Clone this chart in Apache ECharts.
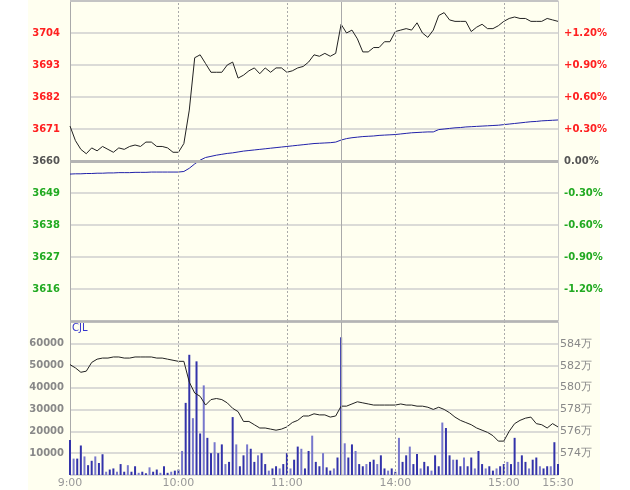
<!DOCTYPE html>
<html>
<head>
<meta charset="utf-8">
<script src="https://cdn.jsdelivr.net/npm/echarts@6/dist/echarts.min.js"></script>
<style>
  html, body { margin: 0; padding: 0; background: #fff; }
  #chart { width: 630px; height: 490px; }
</style>
</head>
<body>
<div id="chart"></div>
<script>
// 昨收 / 基准价
const basePrice = 3660;
// 3 分钟一个点，0..270 分钟（9:00-11:30, 13:30-15:30）
const priceStep = 3;
const priceList = [
  3672, 3667, 3664, 3662.5, 3664.5, 3663.5, 3665, 3664, 3663, 3664.5,
  3664, 3665, 3665.5, 3665, 3666.5, 3666.5, 3665, 3665, 3664.5, 3663,
  3663, 3666, 3677.5, 3695.5, 3696.5, 3693.5, 3690.5, 3690.5, 3690.5, 3693,
  3694, 3688.5, 3689.5, 3691, 3692, 3690, 3692, 3690.5, 3692, 3692,
  3690.5, 3691, 3692, 3692.5, 3694, 3696.5, 3696, 3697, 3696, 3697,
  3707, 3704, 3705, 3702, 3697.5, 3697.5, 3699, 3699, 3701, 3701,
  3704.5, 3705, 3705.5, 3705, 3707.5, 3704, 3702.5, 3705, 3710, 3711,
  3708.5, 3708, 3708, 3708, 3704.5, 3706, 3707, 3705.5, 3705.5, 3706.5,
  3708, 3709, 3709.5, 3709, 3709, 3708, 3708, 3708, 3709, 3708.5, 3708
];
const avgList = [
  3655.5, 3655.6, 3655.6, 3655.7, 3655.7, 3655.8, 3655.8, 3655.9, 3655.9, 3656.0,
  3656.0, 3656.0, 3656.1, 3656.1, 3656.1, 3656.2, 3656.2, 3656.2, 3656.2, 3656.2,
  3656.2, 3656.4, 3657.5, 3659.0, 3660.3, 3661.2, 3661.6, 3662.0, 3662.3, 3662.6,
  3662.8, 3663.1, 3663.4, 3663.6, 3663.8, 3664.0, 3664.2, 3664.4, 3664.6, 3664.8,
  3665.0, 3665.2, 3665.4, 3665.6, 3665.8, 3666.0, 3666.1, 3666.2, 3666.3, 3666.5,
  3667.2, 3667.7, 3668.0, 3668.2, 3668.4, 3668.5, 3668.6, 3668.8, 3668.9, 3669.0,
  3669.1, 3669.3, 3669.5, 3669.7, 3669.8, 3669.9, 3670.0, 3670.0, 3670.8, 3671.0,
  3671.2, 3671.4, 3671.5, 3671.7, 3671.8, 3671.9, 3672.0, 3672.1, 3672.2, 3672.3,
  3672.5, 3672.7, 3672.9, 3673.1, 3673.3, 3673.5, 3673.6, 3673.8, 3673.9, 3674.0, 3674.1
];
// 持仓量（万）
const cjlList = [
  582.1, 581.8, 581.4, 581.5, 582.3, 582.6, 582.7, 582.7, 582.8, 582.8,
  582.7, 582.7, 582.8, 582.8, 582.8, 582.8, 582.7, 582.7, 582.6, 582.5,
  582.4, 582.4, 580.5, 579.5, 579.2, 578.4, 578.9, 579.0, 578.9, 578.6,
  578.1, 577.8, 576.9, 576.9, 576.6, 576.3, 576.3, 576.2, 576.1, 576.2,
  576.4, 576.8, 577.0, 577.4, 577.4, 577.6, 577.5, 577.5, 577.3, 577.4,
  578.3, 578.3, 578.5, 578.7, 578.6, 578.5, 578.4, 578.4, 578.4, 578.4,
  578.4, 578.5, 578.4, 578.4, 578.3, 578.3, 578.2, 578.0, 578.2, 578.0,
  577.7, 577.3, 577.0, 576.8, 576.6, 576.3, 576.1, 575.9, 575.6, 575.1,
  575.1, 576.0, 576.7, 577.0, 577.2, 577.3, 576.7, 576.6, 576.3, 576.7, 576.4
];
// 成交量，2 分钟一根
const volStep = 2;
const volList = [
  16000, 7500, 7500, 13500, 8500, 4500, 6500, 8500, 5500, 9500,
  1500, 2500, 3000, 1500, 5000, 1500, 4500, 1500, 4000, 1000,
  1500, 800, 3500, 1500, 2500, 1000, 4000, 1000, 1500, 2000,
  2500, 11000, 33000, 55000, 26000, 52000, 19000, 41000, 17000, 10000,
  15000, 10000, 14000, 5000, 6000, 26500, 14000, 4000, 9000, 14000,
  12000, 6000, 9000, 10000, 5000, 2000, 3000, 4000, 3000, 5000,
  10000, 3000, 7000, 13000, 12000, 3000, 11000, 18000, 6000, 4000,
  10000, 3500, 2000, 3000, 8000, 63000, 14500, 8000, 14000, 11000,
  5000, 4000, 5000, 6000, 7000, 5000, 9000, 3000, 2000, 3000,
  1500, 17000, 6000, 9000, 13000, 5000, 9600, 3000, 6000, 4000,
  2000, 9000, 4000, 24000, 21500, 9000, 7000, 7000, 4000, 8000,
  4000, 8000, 3000, 11000, 5000, 3000, 4000, 2000, 3000, 4000,
  5000, 6000, 5000, 17000, 6000, 9000, 6000, 3000, 7000, 8000,
  4000, 3000, 4000, 4000, 15000, 5000
];
const timeLabels = { 0: '9:00', 60: '10:00', 120: '11:00', 180: '14:00', 240: '15:00', 270: '15:30' };

const chart = echarts.init(document.getElementById('chart'));
const L = 70, R = 72;
const font = 'DejaVu Sans';
const gridLine = { show: true, lineStyle: { color: '#cfcfcf', width: 1.5 } };
const rich = {
  up: { color: '#ff2020', fontFamily: font, fontSize: 10, fontWeight: 'bold' },
  dn: { color: '#22aa22', fontFamily: font, fontSize: 10, fontWeight: 'bold' },
  eq: { color: '#555555', fontFamily: font, fontSize: 10, fontWeight: 'bold' }
};
const tag = (d) => (d > 0 ? 'up' : d < 0 ? 'dn' : 'eq');

const vLines = () => ({
  silent: true,
  symbol: 'none',
  label: { show: false },
  data: [60, 120, 180, 240].map(x => ({ xAxis: x, lineStyle: { color: '#aaa', type: [2, 2], width: 1 } }))
    .concat([{ xAxis: 150, lineStyle: { color: '#aaa', type: 'solid', width: 1 } }])
});

const options = {
  animation: false,
  graphic: [
    { type: 'rect', z: -10, shape: { x: 28, y: 0, width: 572, height: 490 }, style: { fill: '#fffff0' } },
    { type: 'text', left: 72, top: 323, style: { text: 'CJL', fill: '#3333cc', font: '10px ' + font } }
  ],
  grid: [
    { left: L, right: R, top: 1, height: 320, show: false },
    { left: L, right: R, top: 322, height: 153, show: false }
  ],
  xAxis: [
    {
      gridIndex: 0, type: 'value', min: 0, max: 270, interval: 30,
      axisLine: { show: false }, axisTick: { show: false }, axisLabel: { show: false }, splitLine: { show: false }
    },
    {
      gridIndex: 1, type: 'value', min: 0, max: 270, interval: 30,
      axisLine: { show: false }, axisTick: { show: false }, splitLine: { show: false },
      axisLabel: {
        color: '#999', fontFamily: font, fontSize: 11, margin: 3,
        formatter: (v) => timeLabels[v] || ''
      }
    }
  ],
  yAxis: [
    {
      gridIndex: 0, type: 'value', min: -55, max: 55, interval: 11,
      axisLine: { show: true, lineStyle: { color: '#aaa' } }, axisTick: { show: false },
      splitLine: gridLine,
      axisLabel: {
        showMinLabel: false, showMaxLabel: false, margin: 10, rich,
        formatter: (v) => '{' + tag(v) + '|' + (basePrice + v) + '}'
      }
    },
    {
      gridIndex: 0, type: 'value', min: -55, max: 55, interval: 11, position: 'right',
      axisLine: { show: true, lineStyle: { color: '#ccc' } }, axisTick: { show: false },
      splitLine: { show: false },
      axisLabel: {
        showMinLabel: false, showMaxLabel: false, margin: 6, rich,
        formatter: (v) => {
          const p = v / basePrice * 100;
          return '{' + tag(v) + '|' + (v > 0 ? '+' : '') + p.toFixed(2) + '%}';
        }
      }
    },
    {
      gridIndex: 1, type: 'value', min: 0, max: 70000, interval: 10000,
      axisLine: { show: true, lineStyle: { color: '#aaa' } }, axisTick: { show: false },
      splitLine: gridLine,
      axisLabel: {
        showMinLabel: false, showMaxLabel: false,
        color: '#888', fontFamily: font, fontSize: 10, fontWeight: 'bold', margin: 6,
        formatter: (v) => String(v)
      }
    },
    {
      gridIndex: 1, type: 'value', min: 572, max: 586, interval: 2, position: 'right',
      axisLine: { show: true, lineStyle: { color: '#ccc' } }, axisTick: { show: false },
      splitLine: { show: false },
      axisLabel: {
        showMinLabel: false, showMaxLabel: false,
        color: '#888', fontFamily: font, fontSize: 11, margin: 2, formatter: (v) => v + '万'
      }
    }
  ],
  series: [
    {
      type: 'line', xAxisIndex: 0, yAxisIndex: 0, symbol: 'none', silent: true,
      lineStyle: { color: '#222', width: 1 },
      data: priceList.map((p, i) => [i * priceStep, p - basePrice]),
      markLine: vLines()
    },
    {
      type: 'line', xAxisIndex: 0, yAxisIndex: 0, symbol: 'none', silent: true,
      lineStyle: { color: '#2222aa', width: 1 },
      data: avgList.map((p, i) => [i * priceStep, p - basePrice]),
      markLine: {
        silent: true, symbol: 'none', label: { show: false },
        data: [
          { yAxis: 0, lineStyle: { color: '#b4b4b4', width: 3, type: 'solid' } },
          { yAxis: 55, lineStyle: { color: '#c4c4c4', width: 2, type: 'solid' } },
          { yAxis: -55, lineStyle: { color: '#b4b4b4', width: 2.5, type: 'solid' } }
        ]
      }
    },
    {
      type: 'bar', xAxisIndex: 1, yAxisIndex: 2, silent: true, barWidth: 2,
      itemStyle: { color: (p) => (p.dataIndex % 3 === 1 ? '#7777cc' : '#3333aa') },
      data: volList.map((v, i) => [i * volStep, v]),
      markLine: vLines()
    },
    {
      type: 'line', xAxisIndex: 1, yAxisIndex: 3, symbol: 'none', silent: true,
      lineStyle: { color: '#222', width: 1 },
      data: cjlList.map((v, i) => [i * priceStep, v])
    }
  ]
};
chart.setOption(options);
</script>
</body>
</html>
